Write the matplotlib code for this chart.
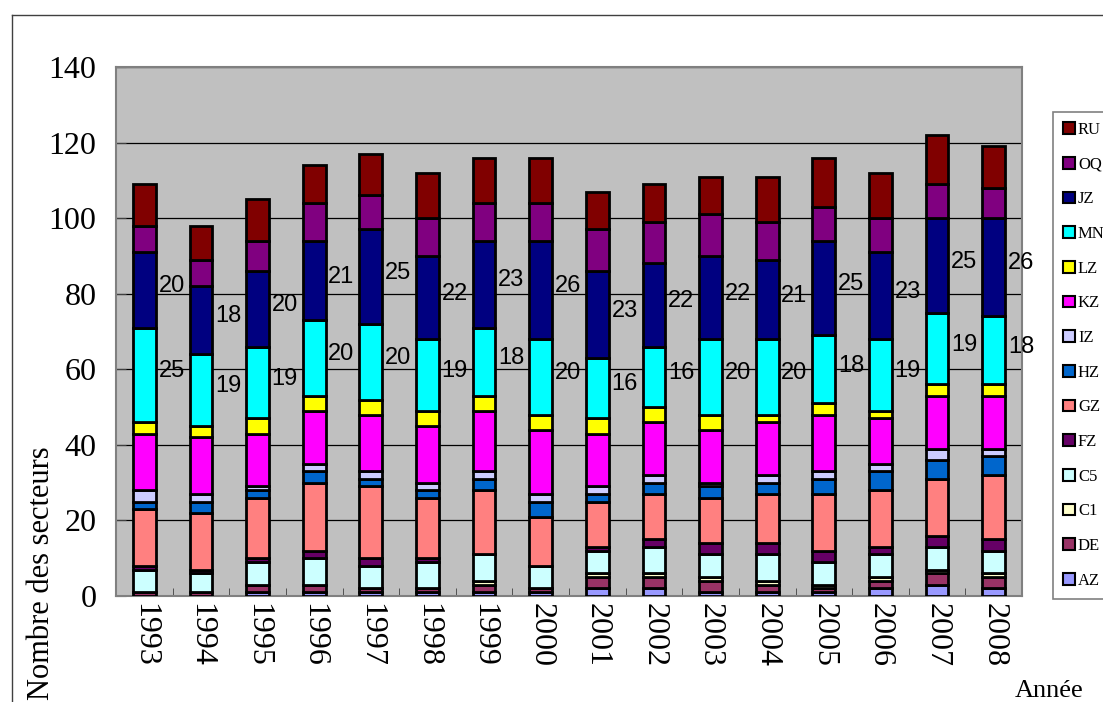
import numpy as np
import matplotlib
matplotlib.use("Agg")
import matplotlib.pyplot as plt
from matplotlib.patches import Patch
from matplotlib.lines import Line2D

annees = [str(a) for a in range(1993, 2009)]

# secteurs, du bas vers le haut de la pile
AZ = [0, 0, 1, 1, 1, 1, 1, 1, 2, 2, 1, 1, 1, 2, 3, 2]
DE = [1, 1, 2, 2, 1, 1, 2, 1, 3, 3, 3, 2, 1, 2, 3, 3]
C1 = [0, 0, 0, 0, 0, 0, 1, 0, 1, 1, 1, 1, 1, 1, 1, 1]
C5 = [6, 5, 6, 7, 6, 7, 7, 6, 6, 7, 6, 7, 6, 6, 6, 6]
FZ = [1, 1, 1, 2, 2, 1, 0, 0, 1, 2, 3, 3, 3, 2, 3, 3]
GZ = [15, 15, 16, 18, 19, 16, 17, 13, 12, 12, 12, 13, 15, 15, 15, 17]
HZ = [2, 3, 2, 3, 2, 2, 3, 4, 2, 3, 3, 3, 4, 5, 5, 5]
IZ = [3, 2, 1, 2, 2, 2, 2, 2, 2, 2, 1, 2, 2, 2, 3, 2]
KZ = [15, 15, 14, 14, 15, 15, 16, 17, 14, 14, 14, 14, 15, 12, 14, 14]
LZ = [3, 3, 4, 4, 4, 4, 4, 4, 4, 4, 4, 2, 3, 2, 3, 3]
MN = [25, 19, 19, 20, 20, 19, 18, 20, 16, 16, 20, 20, 18, 19, 19, 18]
JZ = [20, 18, 20, 21, 25, 22, 23, 26, 23, 22, 22, 21, 25, 23, 25, 26]
OQ = [7, 7, 8, 10, 9, 10, 10, 10, 11, 11, 11, 10, 9, 9, 9, 8]
RU = [11, 9, 11, 10, 11, 12, 12, 12, 10, 10, 10, 12, 13, 12, 13, 11]

noms = ["AZ", "DE", "C1", "C5", "FZ", "GZ", "HZ", "IZ", "KZ", "LZ", "MN", "JZ", "OQ", "RU"]
series = [AZ, DE, C1, C5, FZ, GZ, HZ, IZ, KZ, LZ, MN, JZ, OQ, RU]
couleurs = ["#9999FF", "#993366", "#FFFFCC", "#CCFFFF", "#660066", "#FF8080", "#0066CC",
            "#CCCCFF", "#FF00FF", "#FFFF00", "#00FFFF", "#000080", "#800080", "#800000"]

serif = "Liberation Serif"
sans = "Liberation Sans"

fig = plt.figure(figsize=(11.03, 7.02), dpi=100)
ax = fig.add_axes([116 / 1103, 1 - 596 / 702, 906 / 1103, 529 / 702])
ax.set_facecolor("#C0C0C0")

x = np.arange(len(annees))
larg = 0.4
bas = np.zeros(len(annees))
centres = {}
for nom, vals, c in zip(noms, series, couleurs):
    vals = np.array(vals, dtype=float)
    ax.bar(x, vals, larg, bottom=bas, color=c, edgecolor="black", linewidth=2, zorder=3)
    centres[nom] = bas + vals / 2
    bas = bas + vals

# etiquettes des secteurs JZ et MN
for nom, vals in (("JZ", JZ), ("MN", MN)):
    for i, v in enumerate(vals):
        ax.text(x[i] + larg / 2 + 0.05, centres[nom][i] + 1, str(v), fontsize=17,
                family=sans, ha="left", va="center", zorder=4)

ax.set_xlim(-0.5, len(annees) - 0.5)
ax.set_ylim(0, 140)
ax.set_yticks(np.arange(0, 141, 20))
ax.yaxis.grid(True, color="black", linewidth=0.9, zorder=1)
ax.set_axisbelow(True)
ax.tick_params(axis="y", direction="in", length=7, color="#404040", labelsize=23, pad=14)
for t in ax.get_yticklabels():
    t.set_family(serif)

ax.set_xticks(x)
ax.set_xticklabels(annees, rotation=-90, fontsize=23, family=serif)
ax.set_xticks(np.arange(0.5, len(annees) - 0.5), minor=True)
ax.tick_params(axis="x", which="major", length=0, pad=5)
ax.tick_params(axis="x", which="minor", direction="in", length=6, color="#404040")
for s in ax.spines.values():
    s.set_color("#808080")
    s.set_linewidth(1.5)

fig.text(42 / 1103, 1 - 700 / 702, "Nombre des secteurs", rotation=90, fontsize=22,
         family=serif, ha="center", va="bottom")
fig.text(1015 / 1103, 1 - 697 / 702, "Année", fontsize=19, family=serif,
         ha="left", va="baseline")

poignees = [Patch(facecolor=c, edgecolor="black", linewidth=1.5) for c in couleurs][::-1]
leg = fig.legend(poignees, noms[::-1], loc="upper left",
                 bbox_to_anchor=(1053 / 1103, 1 - 112 / 702),
                 prop={"family": serif, "size": 12}, frameon=True, fancybox=False,
                 edgecolor="#606060", handlelength=0.7, handleheight=0.7,
                 handletextpad=0.2, labelspacing=1.12, borderpad=0.6, borderaxespad=0)
leg.get_frame().set_linewidth(1.2)

# cadre du graphique
fig.add_artist(Line2D([12 / 1103, 1], [1 - 15 / 702, 1 - 15 / 702],
                      transform=fig.transFigure, color="#404040", linewidth=1))
fig.add_artist(Line2D([12 / 1103, 12 / 1103], [0, 1 - 15 / 702],
                      transform=fig.transFigure, color="#404040", linewidth=1))

fig.savefig("out.png", dpi=100)
